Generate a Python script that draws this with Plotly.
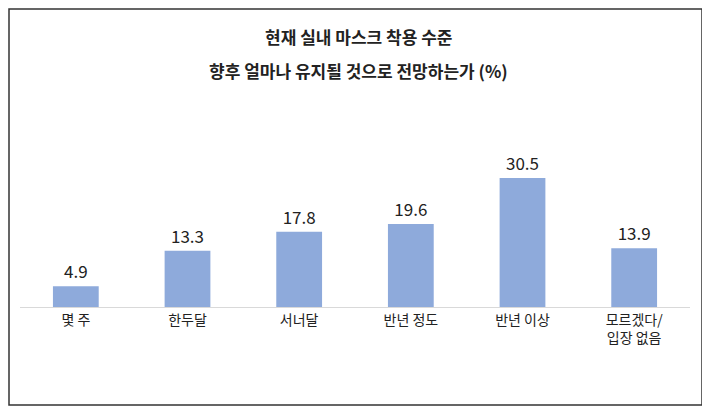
import plotly.graph_objects as go

categories = ["몇 주", "한두달", "서너달", "반년 정도", "반년 이상", "모르겠다/<br>입장 없음"]
values = [4.9, 13.3, 17.8, 19.6, 30.5, 13.9]
title_lines = ["현재 실내 마스크 착용 수준", "향후 얼마나 유지될 것으로 전망하는가 (%)"]

fig = go.Figure(go.Bar(
    x=categories, y=values,
    marker=dict(color="#8eaadb", line=dict(width=0)),
    width=0.41,
    text=[f"{v:.1f}" for v in values],
    textposition="outside",
    textfont=dict(size=17, color="#222222"),
    cliponaxis=False,
))

W, H = 700, 400
L, R, T, B = 12, 18, 92, 101
pw, ph = W - L - R, H - T - B

annotations = []
for i, line in enumerate(title_lines):
    ypix = 29 + 33 * i
    annotations.append(dict(
        text=f"<b>{line}</b>", xref="paper", yref="paper",
        x=(W / 2 - L) / pw, y=1 + (T - ypix) / ph,
        xanchor="center", yanchor="middle", showarrow=False,
        font=dict(size=17, color="#222222"),
    ))

fig.update_layout(
    width=W, height=H,
    margin=dict(l=L, r=R, t=T, b=B),
    paper_bgcolor="white", plot_bgcolor="white",
    font=dict(family="Noto Sans CJK KR", color="#222222"),
    showlegend=False,
    annotations=annotations,
    xaxis=dict(showline=True, linecolor="#d9d9d9", linewidth=1, ticks="",
               tickfont=dict(size=14, color="#222222")),
    yaxis=dict(range=[0, 48.9], visible=False),
    shapes=[dict(type="rect", xref="paper", yref="paper",
                 x0=(1 - L) / pw, x1=(W - 6 - L) / pw,
                 y0=-(H - 3 - (H - B)) / ph, y1=1 + (T - 1) / ph,
                 line=dict(color="#333333", width=1.5))],
)

fig.write_html("out.html")
